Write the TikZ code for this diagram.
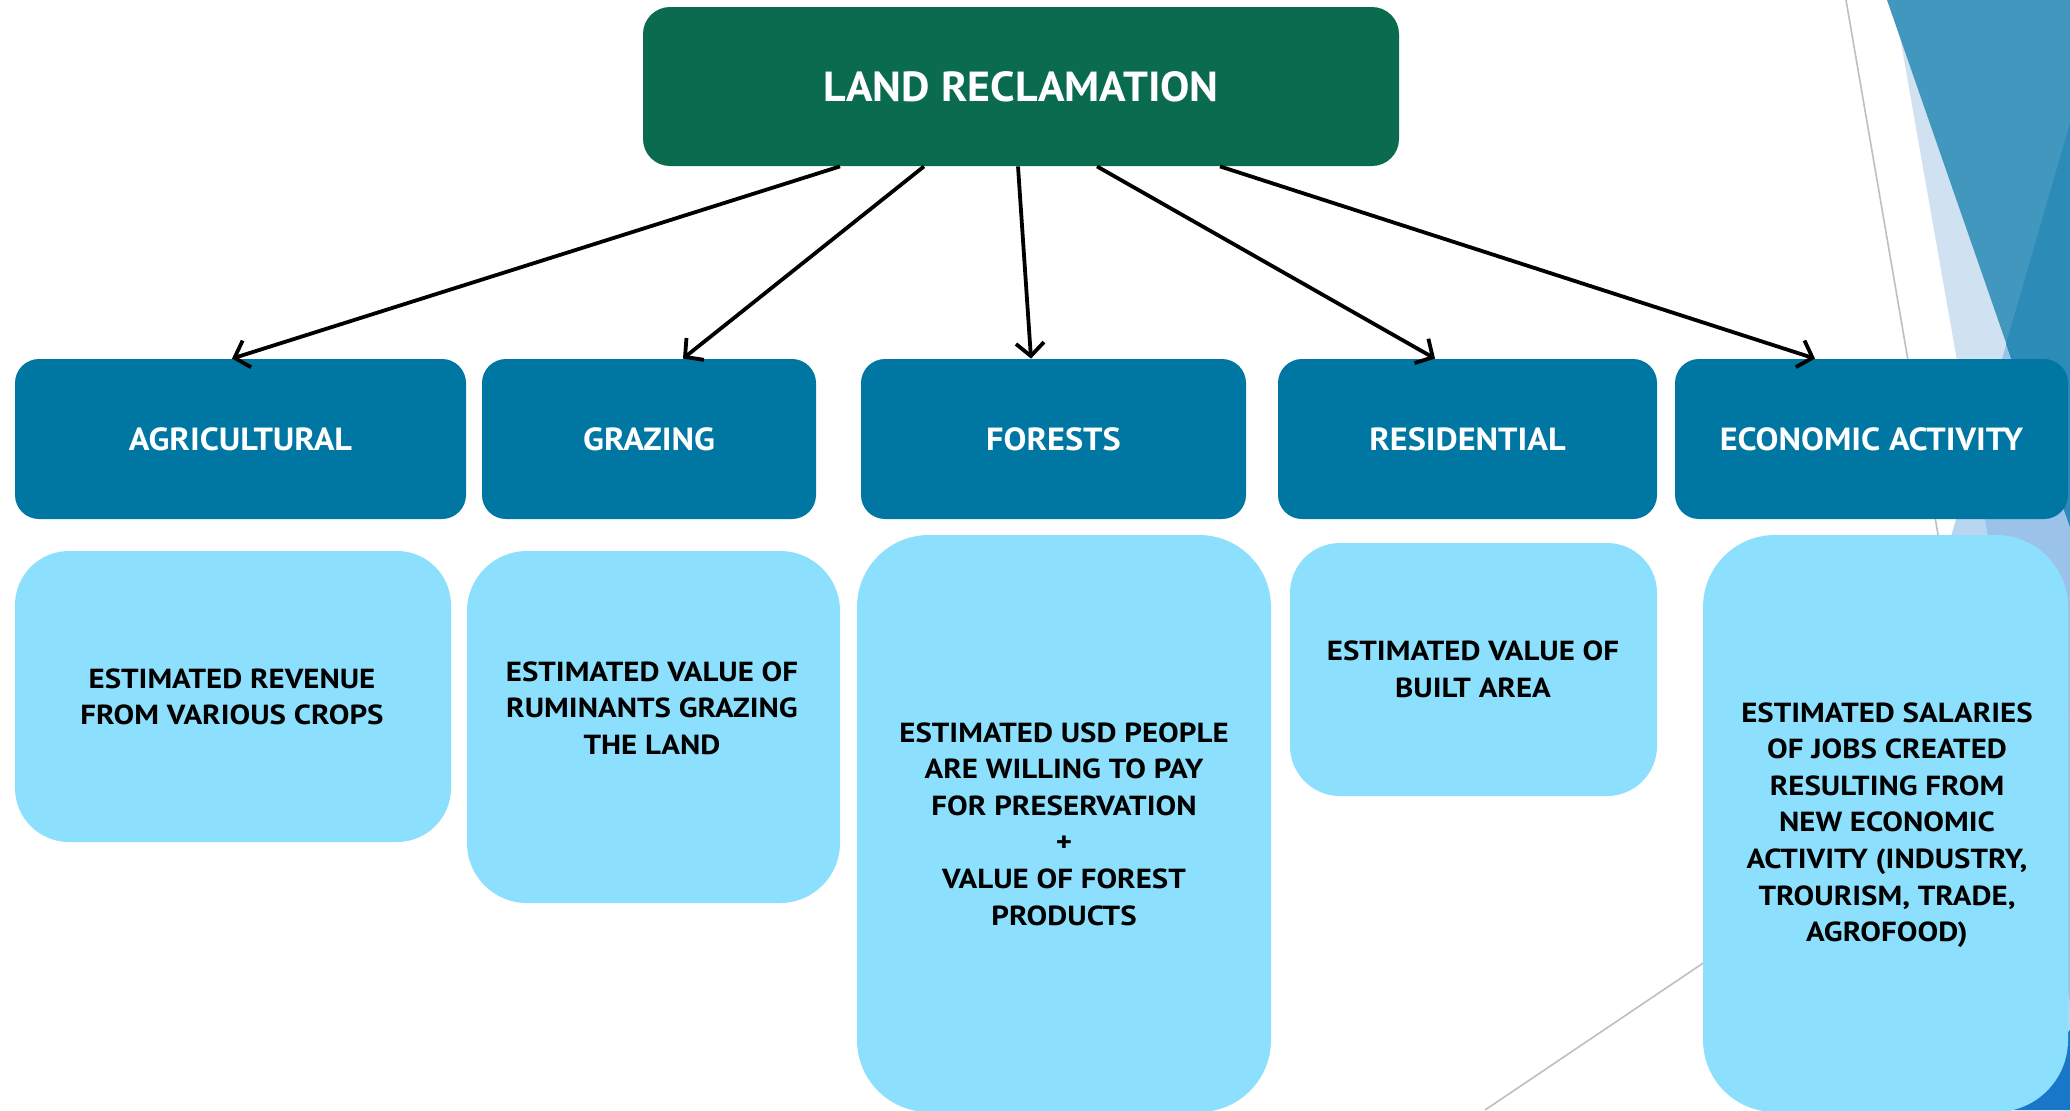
\documentclass[tikz,border=0pt]{standalone}
\usepackage{fontspec}
\setmainfont{PT Sans}
\newfontfamily\topfont{PT Sans}[FakeStretch=1.045]
\newfontfamily\catfont{PT Sans}[FakeStretch=1.07]
\newfontfamily\valfont{PT Sans}[FakeStretch=1.12]
\usetikzlibrary{arrows.meta,calc}
\definecolor{topgreen}{HTML}{0B6B4F}
\definecolor{midblue}{HTML}{0077A3}
\definecolor{lightbox}{HTML}{8DE0FD}
\definecolor{decoL}{HTML}{D0E1F2}
\definecolor{decoT}{HTML}{B9D6F0}
\definecolor{decoLT}{HTML}{9BC2E8}
\definecolor{decoD}{HTML}{4197BD}
\definecolor{decoDT}{HTML}{2D8BB8}
\definecolor{decoDark}{HTML}{1877C9}
\definecolor{decoLine}{HTML}{BFBFBF}
\tikzset{
  topbox/.style={fill=topgreen, text=white, rounded corners=13.5pt, inner sep=0pt,
    font=\topfont\bfseries\fontsize{21}{25}\selectfont, minimum width=378pt, minimum height=79.5pt},
  catbox/.style={fill=midblue, text=white, rounded corners=12pt, inner sep=0pt,
    font=\catfont\bfseries\fontsize{16}{20}\selectfont, minimum height=80pt},
  valbox/.style={fill=lightbox, inner sep=0pt},
  valtext/.style={text=black, align=center, inner sep=0pt,
    font=\valfont\bfseries\fontsize{13.8}{18.3}\selectfont},
  arr/.style={draw=black, line width=1.9pt, -{Straight Barb[length=6.5pt,width=14pt,line width=1.9pt]}},
  decoline/.style={draw=decoLine, line width=0.8pt}
}
\begin{document}
\begin{tikzpicture}[x=0.5pt,y=-0.5pt]
\useasboundingbox (0,0) rectangle (2070,1110);
\fill[white] (0,0) rectangle (2070,1110);
% background decoration
\fill[decoL] (1893.5,0) -- (2070,0) -- (2070,1003) -- cycle;
\fill[decoT] (2070,123) -- (1786,1110) -- (2070,1110) -- cycle;
\fill[decoLT] (2070,123) -- (1974,457) -- (2070,1003) -- cycle;
\fill[decoD] (1887,0) -- (2070,0) -- (2070,527) -- cycle;
\fill[decoDT] (2070,123) -- (2006,344) -- (2070,527) -- cycle;
\draw[decoline] (1846,0) -- (2037,1110);
\draw[decoline] (1485,1110) -- (2070,716);
\fill[decoDark] (1990,1110) -- (2070,1110) -- (2070,1030) -- cycle;

% top node
\node[topbox] (top) at (1021,86.5) {LAND RECLAMATION};

% category nodes
\node[catbox, minimum width=225.5pt] (ag) at (240.5,439) {AGRICULTURAL};
\node[catbox, minimum width=167pt] (gr) at (649,439) {GRAZING};
\node[catbox, minimum width=192.5pt] (fo) at (1053.5,439) {FORESTS};
\node[catbox, minimum width=189.5pt] (re) at (1467.5,439) {RESIDENTIAL};
\node[catbox, minimum width=196.5pt] (ec) at (1871.5,439) {ECONOMIC ACTIVITY};

% value boxes
\node[valbox, rounded corners=27pt, minimum width=218pt, minimum height=145.5pt] (b1) at (233,696.5) {};
\node[valbox, rounded corners=30pt, minimum width=186.5pt, minimum height=176pt] (b2) at (653.5,727) {};
\node[valbox, rounded corners=36pt, minimum width=207pt, minimum height=288.5pt] (b3) at (1064,823.5) {};
\node[valbox, rounded corners=25pt, minimum width=183.5pt, minimum height=126.5pt] (b4) at (1473.5,669.5) {};
\node[valbox, rounded corners=36pt, minimum width=182.5pt, minimum height=288.5pt] (b5) at (1885.5,823.5) {};

\node[valtext] (t1) at (232,697) {ESTIMATED REVENUE\\FROM VARIOUS CROPS};
\node[valtext] (t2) at (652,708) {ESTIMATED VALUE OF\\RUMINANTS GRAZING\\THE LAND};
\node[valtext] (t3) at (1064,824) {ESTIMATED USD PEOPLE\\ARE WILLING TO PAY\\FOR PRESERVATION\\+\\VALUE OF FOREST\\PRODUCTS};
\node[valtext] (t4) at (1473,669) {ESTIMATED VALUE OF\\BUILT AREA};
\node[valtext] (t5) at (1887,825) {ESTIMATED SALARIES\\OF JOBS CREATED\\RESULTING FROM\\NEW ECONOMIC\\ACTIVITY (INDUSTRY,\\TROURISM, TRADE,\\AGROFOOD)};

% connectors
\draw[arr] ($(top.south)+(-181,0)$) -- ($(ag.north)+(-8.5,0)$);
\draw[arr] ($(top.south)+(-97,0)$) -- ($(gr.north)+(34,0)$);
\draw[arr] ($(top.south)+(-3,0)$) -- ($(fo.north)+(-22.5,0)$);
\draw[arr] ($(top.south)+(76,0)$) -- ($(re.north)+(-32.5,0)$);
\draw[arr] ($(top.south)+(199,0)$) -- ($(ec.north)+(-56.5,0)$);
\end{tikzpicture}
\end{document}
